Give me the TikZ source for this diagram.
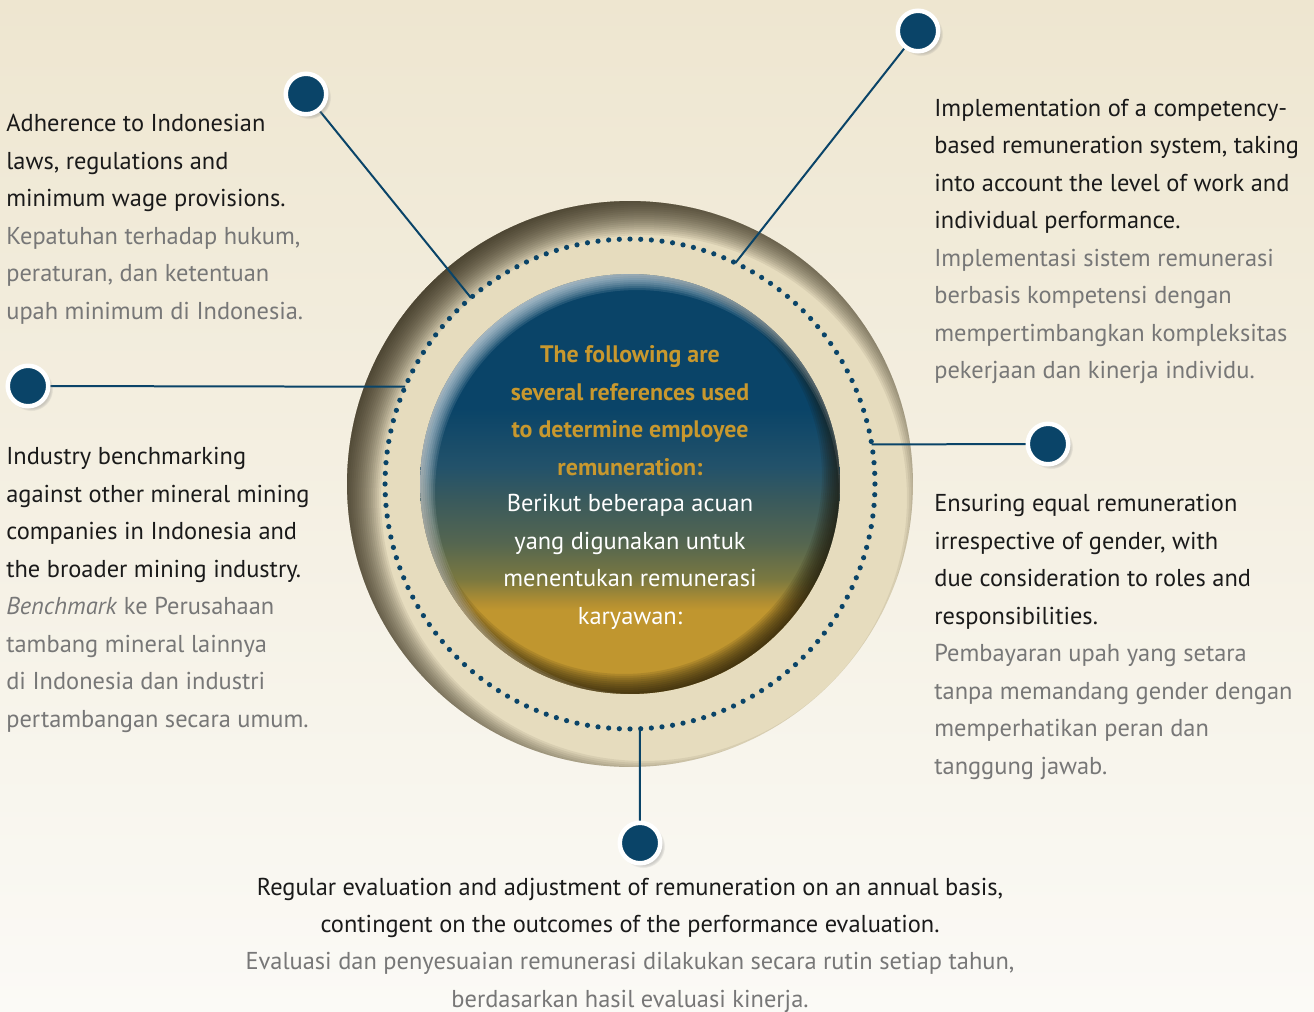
\documentclass[tikz,border=0pt]{standalone}
\usepackage{fontspec}
\setmainfont{PT Sans}
\usetikzlibrary{positioning, shadows, fadings}

\definecolor{navy}{HTML}{0A4468}
\definecolor{ink}{HTML}{1A1A1A}
\definecolor{slate}{HTML}{777777}
\definecolor{goldtext}{HTML}{C8982E}
\definecolor{bgtop}{HTML}{EEE6D0}
\definecolor{bgbot}{HTML}{FBFAF6}
\definecolor{ringbeige}{HTML}{E6DCBE}
\definecolor{ringshade}{HTML}{2B2414}
\definecolor{rimdark}{HTML}{1C1608}
\definecolor{discblue}{HTML}{0A4468}
\definecolor{discsea}{HTML}{23526A}
\definecolor{discteal}{HTML}{3A5A5C}
\definecolor{discsage}{HTML}{556650}
\definecolor{discolive}{HTML}{7A7840}
\definecolor{discochre}{HTML}{B08E32}
\definecolor{discgold}{HTML}{C0962F}

% la zona 25bp--75bp cubre el disco
\pgfdeclareverticalshading{disc}{100bp}{color(0bp)=(discgold); color(35bp)=(discgold); color(36bp)=(discochre); color(38.7bp)=(discolive); color(43bp)=(discsage); color(48bp)=(discteal); color(52bp)=(discsea); color(59bp)=(discblue); color(100bp)=(discblue)}

\pgfdeclarelayer{base}
\pgfdeclarelayer{lines}
\pgfsetlayers{base,lines,main}

\newcommand\txtsize{\fontsize{13.9}{21.34}\selectfont}
\newcommand\headsize{\fontsize{13.6}{21.34}\selectfont\bfseries}

\begin{document}
\begin{tikzpicture}[
    x=0.02cm, y=-0.02cm,
    % Estilos
    ball/.style={circle, fill=navy, draw=white, line width=0.09cm, minimum size=0.81cm, inner sep=0pt,
        circular drop shadow={shadow xshift=0.06cm, shadow yshift=-0.06cm, opacity=0.35, shadow scale=1.08}},
    link/.style={draw=navy, line width=0.04cm},
    entext/.style={anchor=base west, align=left, inner sep=0pt, text=ink, font=\txtsize},
    idtext/.style={entext, text=slate},
    centext/.style={anchor=base, align=center, inner sep=0pt, font=\txtsize}
    ]

    \useasboundingbox (0,0) rectangle (1314,1011);

    \begin{pgfonlayer}{base}
    % Fondo
    \shade[top color=bgtop, bottom color=bgbot] (0,0) rectangle (1314,1011);

    % Anillo exterior con sombra interior
    \coordinate (C) at (630,484);
    \fill[ringbeige] (C) circle (5.66cm);
    \begin{scope}
        \clip (C) circle (5.66cm);
        \foreach \k in {-22,-20,...,20}
            \fill[ringshade, opacity=0.075, even odd rule] ([shift={(14,14)}]C) circle (7cm) ([shift={(14,14)}]C) circle ({5.66cm-(\k)*0.02cm});
    \end{scope}

    % Circulo punteado
    \foreach \a in {0,2.5,...,357.5}
        \fill[navy] (C) ++(\a:4.9cm) circle (0.052cm);

    % Disco central
    \shade[shading=disc] (C) circle (4.2cm);
    \begin{scope}
        \clip (C) circle (4.2cm);
        \foreach \k in {-10,-8,...,12}
            \fill[rimdark, opacity=0.11, even odd rule] ([shift={(-6,-8)}]C) circle (5cm) ([shift={(-6,-8)}]C) circle ({4.2cm-(\k)*0.02cm});
        \foreach \k in {-10,-8,...,8}
            \fill[white, opacity=0.1, even odd rule] ([shift={(7,8)}]C) circle (5cm) ([shift={(7,8)}]C) circle ({4.2cm-(\k)*0.02cm});
    \end{scope}
    \end{pgfonlayer}

    % Extremos sobre el circulo punteado
    \path (C) ++(130.5:4.9cm) coordinate (e1);
    \path (C) ++(64.5:4.9cm) coordinate (e2);
    \path (C) ++(156.6:4.9cm) coordinate (e3);
    \path (C) ++(9.3:4.9cm) coordinate (e4);
    \path (C) ++(-87.7:4.9cm) coordinate (e5);

    % Marcadores
    \node[ball] (b1) at (306,94) {};
    \node[ball] (b2) at (918,31) {};
    \node[ball] (b3) at (28,386) {};
    \node[ball] (b4) at (1048,444) {};
    \node[ball] (b5) at (640,843) {};

    % Conectores
    \begin{pgfonlayer}{lines}
    \draw[link] (b1.center) -- (e1);
    \draw[link] (b2.center) -- (e2);
    \draw[link] (b3.center) -- (e3);
    \draw[link] (b4.center) -- (e4);
    \draw[link] (b5.center) -- (e5);
    \end{pgfonlayer}

    % Texto central (base = ultima linea)
    \node[centext, text=goldtext, font=\headsize] (head_en) at (630,475) {The following are\\several references used\\to determine employee\\remuneration:};
    \node[centext, text=white] (head_id) at (630,624) {Berikut beberapa acuan\\yang digunakan untuk\\menentukan remunerasi\\karyawan:};

    % Arriba izquierda
    \node[entext] (law_en) at (6,206.5) {Adherence to Indonesian\\laws, regulations and\\minimum wage provisions.};
    \node[idtext] (law_id) at (6,319) {Kepatuhan terhadap hukum,\\peraturan, dan ketentuan\\upah minimum di Indonesia.};

    % Izquierda
    \node[entext] (bench_en) at (6,577) {Industry benchmarking\\against other mineral mining\\companies in Indonesia and\\the broader mining industry.};
    \node[idtext] (bench_id) at (6,727) {\textit{Benchmark} ke Perusahaan\\tambang mineral lainnya\\di Indonesia dan industri\\pertambangan secara umum.};

    % Arriba derecha
    \node[entext] (comp_en) at (934,228.5) {Implementation of a competency-\\based remuneration system, taking\\into account the level of work and\\individual performance.};
    \node[idtext] (comp_id) at (934,378.5) {Implementasi sistem remunerasi\\berbasis kompetensi dengan\\mempertimbangkan kompleksitas\\pekerjaan dan kinerja individu.};

    % Derecha
    \node[entext] (equal_en) at (934,624) {Ensuring equal remuneration\\irrespective of gender, with\\due consideration to roles and\\responsibilities.};
    \node[idtext] (equal_id) at (934,774) {Pembayaran upah yang setara\\tanpa memandang gender dengan\\memperhatikan peran dan\\tanggung jawab.};

    % Abajo
    \node[centext, text=ink] (eval_en) at (630,932.5) {Regular evaluation and adjustment of remuneration on an annual basis,\\contingent on the outcomes of the performance evaluation.};
    \node[centext, text=slate] (eval_id) at (630,1007) {Evaluasi dan penyesuaian remunerasi dilakukan secara rutin setiap tahun,\\berdasarkan hasil evaluasi kinerja.};

\end{tikzpicture}
\end{document}
